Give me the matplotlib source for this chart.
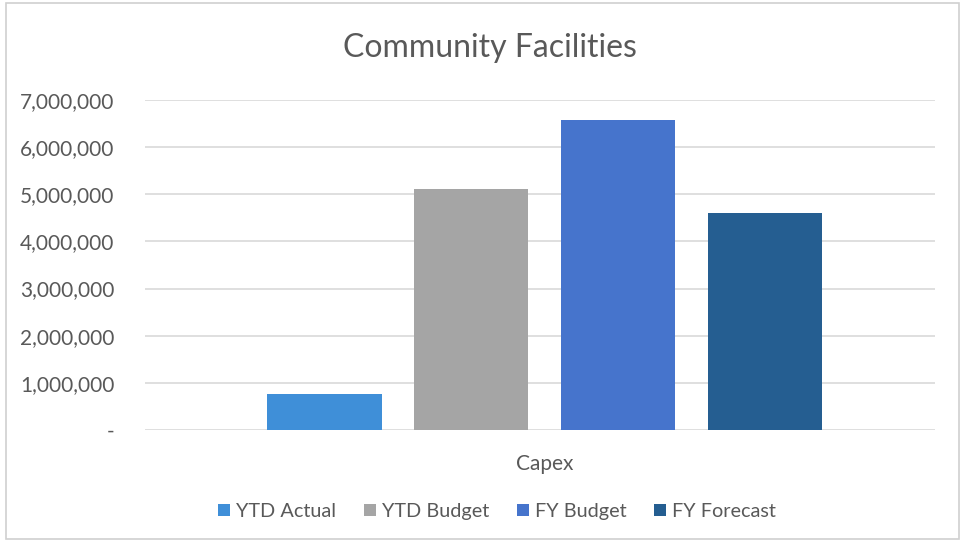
import matplotlib.pyplot as plt
from matplotlib.patches import Rectangle
from matplotlib.ticker import FuncFormatter

# data
categories = ['Capex']
series = ['YTD Actual', 'YTD Budget', 'FY Budget', 'FY Forecast']
values = [770000, 5120000, 6570000, 4610000]
colors = ['#3f8fd8', '#a5a5a5', '#4674cc', '#255e91']
yticks = [0, 1000000, 2000000, 3000000, 4000000, 5000000, 6000000, 7000000]

plt.rcParams['font.family'] = ['Lato', 'DejaVu Sans']

fig = plt.figure(figsize=(9.65, 5.43), dpi=100)
ax = fig.add_axes([0.150, 0.208, 0.819, 0.608])

# frame around the chart
fig.patches.append(Rectangle((0.006, 0.008), 0.988, 0.986, transform=fig.transFigure,
                             fill=False, edgecolor='#d0d0d0', linewidth=1.2))

step = 0.1857
width = 0.1443
for i, (name, v, c) in enumerate(zip(series, values, colors)):
    ax.bar(0.006 + (i - 1.5) * step, v, width=width, color=c, label=name, zorder=3)

ax.set_xlim(-0.5, 0.5)
ax.set_ylim(0, 7000000)
ax.set_yticks(yticks)
ax.yaxis.set_major_formatter(FuncFormatter(lambda v, p: '-' if v == 0 else f'{int(v):,}'))
ax.grid(axis='y', color='#d9d9d9', linewidth=1.2, zorder=0)
ax.set_xticks([0.006])
ax.set_xticklabels(categories)
for s in ax.spines.values():
    s.set_visible(False)
ax.tick_params(axis='both', length=0, labelsize=15, labelcolor='#595959')
ax.tick_params(axis='y', pad=22)
ax.tick_params(axis='x', pad=17)

fig.text(0.508, 0.912, 'Community Facilities', ha='center', va='center',
         fontsize=23, color='#595959')

fig.legend(loc='center', bbox_to_anchor=(0.515, 0.058), ncol=4, frameon=False,
           fontsize=14.3, labelcolor='#595959', handlelength=0.6, handleheight=0.6,
           handletextpad=0.3, columnspacing=1.4)

fig.savefig('out.png', dpi=100)
